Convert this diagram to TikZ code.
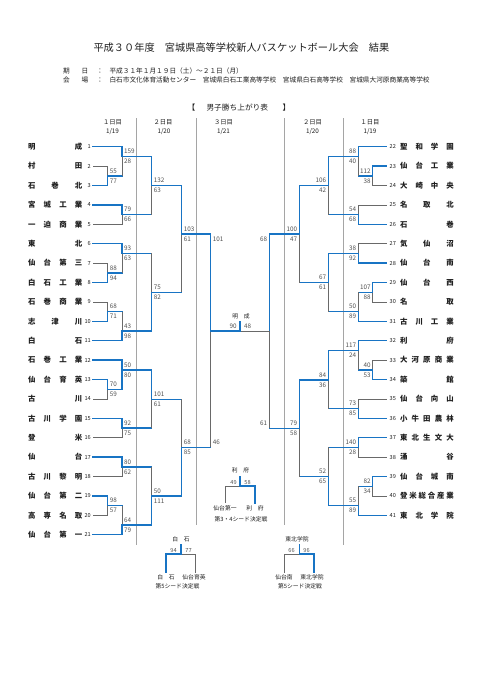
\documentclass[tikz,border=0pt]{standalone}
\usepackage{fontspec}
\setmainfont{Noto Sans CJK JP}
\usetikzlibrary{calc}
\definecolor{winc}{RGB}{24,116,196}
\definecolor{losec}{RGB}{105,105,105}
\definecolor{sepc}{RGB}{165,165,165}
\definecolor{scc}{RGB}{80,80,80}
\definecolor{txtc}{RGB}{30,30,30}
\makeatletter
\newcommand\spread[2]{\makebox[#1][s]{\let\sp@sep\relax\@tfor\sp@c:=#2\do{\sp@sep\sp@c\def\sp@sep{\hfill}}}}
\makeatother
\tikzset{
 winline/.style={draw=winc, line width=1.4pt, line cap=rect},
 loseline/.style={draw=losec, line width=0.7pt},
 sepline/.style={draw=sepc, line width=0.8pt},
 sc/.style={font=\fontsize{6.3}{7}\selectfont, text=scc, inner sep=0pt},
 psc/.style={font=\fontsize{5.6}{6}\selectfont, text=scc, inner sep=0pt},
 num/.style={font=\fontsize{5.6}{6}\selectfont, text=txtc, inner sep=0pt},
 tname/.style={font=\bfseries\fontsize{7.4}{8}\selectfont, text=txtc, inner sep=0pt},
 smalltxt/.style={font=\fontsize{5.8}{6}\selectfont, text=txtc, inner sep=0pt},
 hdr/.style={font=\fontsize{6.3}{7}\selectfont, text=txtc, inner sep=0pt},
 info/.style={font=\fontsize{6.67}{7}\selectfont, text=txtc, inner sep=0pt},
}
\newcommand\lteam[2]{%
 \pgfmathsetmacro\ty{146.7+(#1-1)*19.4}%
 \node[tname,anchor=west] (n#1) at (28,\ty) {\spread{54pt}{#2}};%
 \node[num,anchor=east] (k#1) at (91,\ty) {#1};%
 \coordinate (t#1) at (93,\ty);}
\newcommand\rteam[2]{%
 \pgfmathsetmacro\ty{146.7+(#1-22)*19.4}%
 \node[tname,anchor=west] (n#1) at (400,\ty) {\spread{53.5pt}{#2}};%
 \node[num,anchor=west] (k#1) at (389.5,\ty) {#1};%
 \coordinate (t#1) at (386.7,\ty);}
\newcommand\tf[3]{\draw[#3] (#1) -| (#2);}
\newcommand\mf[3]{\draw[winline] (#1) -- (#1 -| #2); \draw[#3] (#1 -| #2) -- (#2);}
\newcommand\Lsc[3]{\node[sc,anchor=west] (#1a) at ([xshift=2pt,yshift=5pt]#1) {#2};\node[sc,anchor=west] (#1b) at ([xshift=2pt,yshift=-5pt]#1) {#3};}
\newcommand\Rsc[3]{\node[sc,anchor=east] (#1a) at ([xshift=-2pt,yshift=5pt]#1) {#2};\node[sc,anchor=east] (#1b) at ([xshift=-2pt,yshift=-5pt]#1) {#3};}
\begin{document}
\begin{tikzpicture}[x=1pt,y=-1pt]
\useasboundingbox (0,0) rectangle (481,680);
\fill[white] (0,0) rectangle (481,680);
% header
\node[font=\fontsize{10.2}{12}\selectfont, text=txtc, inner sep=0pt, anchor=west] (title) at (93.3,47.3) {平成３０年度　宮城県高等学校新人バスケットボール大会　結果};
\node[info,anchor=west] (d1) at (63,71) {期};
\node[info,anchor=west] (d2) at (81.5,71) {日};
\node[info] (d3) at (100,71) {：};
\node[info,anchor=west] (d4) at (109.3,71) {平成３１年１月１９日（土）～２１日（月）};
\node[info,anchor=west] (v1) at (63,80) {会};
\node[info,anchor=west] (v2) at (81.5,80) {場};
\node[info] (v3) at (100,80) {：};
\node[info,anchor=west] (v4) at (109.3,80) {白石市文化体育活動センター　宮城県白石工業高等学校　宮城県白石高等学校　宮城県大河原商業高等学校};
\node[font=\fontsize{7.7}{8}\selectfont, text=txtc, inner sep=0pt] (tb1) at (191.5,107.7) {【};
\node[font=\fontsize{7.7}{8}\selectfont, text=txtc, inner sep=0pt] (tb2) at (237.3,107.7) {男子勝ち上がり表};
\node[font=\fontsize{7.7}{8}\selectfont, text=txtc, inner sep=0pt] (tb3) at (286.5,107.7) {】};
% column headers
\node[hdr] (h1) at (112.5,122.7) {１日目}; \node[hdr] (h1d) at (112.5,131.7) {1/19};
\node[hdr] (h2) at (163,122.7) {２日目}; \node[hdr] (h2d) at (164,131.7) {1/20};
\node[hdr] (h3) at (223.5,122.7) {３日目}; \node[hdr] (h3d) at (223.5,131.7) {1/21};
\node[hdr] (h4) at (312.5,122.7) {２日目}; \node[hdr] (h4d) at (312.5,131.7) {1/20};
\node[hdr] (h5) at (370,122.7) {１日目}; \node[hdr] (h5d) at (370,131.7) {1/19};
% separators
\draw[sepline] (136.7,118.3) -- (136.7,545);
\draw[sepline] (196,118.3) -- (196,525);
\draw[sepline] (284.5,118.3) -- (284.5,525);
\draw[sepline] (343.3,118.3) -- (343.3,545);
% left teams
\lteam{1}{明成}\lteam{2}{村田}\lteam{3}{石巻北}\lteam{4}{宮城工業}\lteam{5}{一迫商業}
\lteam{6}{東北}\lteam{7}{仙台第三}\lteam{8}{白石工業}\lteam{9}{石巻商業}\lteam{10}{志津川}
\lteam{11}{白石}\lteam{12}{石巻工業}\lteam{13}{仙台育英}\lteam{14}{古川}\lteam{15}{古川学園}
\lteam{16}{登米}\lteam{17}{仙台}\lteam{18}{古川黎明}\lteam{19}{仙台第二}\lteam{20}{高専名取}
\lteam{21}{仙台第一}
% right teams
\rteam{22}{聖和学園}\rteam{23}{仙台工業}\rteam{24}{大崎中央}\rteam{25}{名取北}\rteam{26}{石巻}
\rteam{27}{気仙沼}\rteam{28}{仙台南}\rteam{29}{仙台西}\rteam{30}{名取}\rteam{31}{古川工業}
\rteam{32}{利府}\rteam{33}{大河原商業}\rteam{34}{築館}\rteam{35}{仙台向山}\rteam{36}{小牛田農林}
\rteam{37}{東北生文大}\rteam{38}{涌谷}\rteam{39}{仙台城南}\rteam{40}{登米総合産業}\rteam{41}{東北学院}
% left bracket
\coordinate (mA) at (107.7,175.8);
\tf{t2}{mA}{loseline} \tf{t3}{mA}{winline} \Lsc{mA}{55}{77}
\coordinate (mB) at (122,156.7);
\tf{t1}{mB}{winline} \mf{mA}{mB}{loseline} \Lsc{mB}{159}{28}
\coordinate (mC) at (122,214.6);
\tf{t4}{mC}{winline} \tf{t5}{mC}{loseline} \Lsc{mC}{79}{66}
\coordinate (mD) at (151.7,185.7);
\mf{mB}{mD}{winline} \mf{mC}{mD}{loseline} \Lsc{mD}{132}{63}
\coordinate (mE) at (107.7,272.8);
\tf{t7}{mE}{loseline} \tf{t8}{mE}{winline} \Lsc{mE}{88}{94}
\coordinate (mF) at (122,253.3);
\tf{t6}{mF}{winline} \mf{mE}{mF}{loseline} \Lsc{mF}{93}{63}
\coordinate (mG) at (107.7,311.6);
\tf{t9}{mG}{loseline} \tf{t10}{mG}{winline} \Lsc{mG}{68}{71}
\coordinate (mI) at (122,331);
\mf{mG}{mI}{loseline} \tf{t11}{mI}{winline} \Lsc{mI}{43}{98}
\coordinate (mJ) at (151.7,292.2);
\mf{mF}{mJ}{loseline} \mf{mI}{mJ}{winline} \Lsc{mJ}{75}{82}
\coordinate (mH) at (181.7,234);
\mf{mD}{mH}{winline} \mf{mJ}{mH}{loseline} \Lsc{mH}{103}{61}
\coordinate (mK) at (107.7,389.2);
\tf{t13}{mK}{winline} \tf{t14}{mK}{loseline} \Lsc{mK}{70}{59}
\coordinate (mL) at (122,370);
\tf{t12}{mL}{winline} \mf{mK}{mL}{winline} \Lsc{mL}{50}{80}
\coordinate (mM) at (122,428);
\tf{t15}{mM}{winline} \tf{t16}{mM}{loseline} \Lsc{mM}{92}{75}
\coordinate (mN) at (151.7,399.3);
\mf{mL}{mN}{winline} \mf{mM}{mN}{loseline} \Lsc{mN}{101}{61}
\coordinate (mO) at (122,466.8);
\tf{t17}{mO}{winline} \tf{t18}{mO}{loseline} \Lsc{mO}{80}{62}
\coordinate (mP) at (107.7,505.6);
\tf{t19}{mP}{winline} \tf{t20}{mP}{loseline} \Lsc{mP}{98}{57}
\coordinate (mQ) at (122,525);
\mf{mP}{mQ}{loseline} \tf{t21}{mQ}{winline} \Lsc{mQ}{64}{79}
\coordinate (mS) at (151.7,496);
\mf{mO}{mS}{loseline} \mf{mQ}{mS}{winline} \Lsc{mS}{50}{111}
\coordinate (mR) at (181.7,447.3);
\mf{mN}{mR}{loseline} \mf{mS}{mR}{winline} \Lsc{mR}{68}{85}
\coordinate (sL) at (210.7,331);
\mf{mH}{sL}{winline} \mf{mR}{sL}{loseline}
\node[sc,anchor=west] (sLa) at (212.7,239.3) {101};
\node[sc,anchor=west] (sLb) at (212.7,442.5) {46};
% right bracket
\coordinate (rA) at (372.7,175.8);
\tf{t23}{rA}{winline} \tf{t24}{rA}{loseline} \Rsc{rA}{112}{38}
\coordinate (rB) at (358.3,156.3);
\tf{t22}{rB}{winline} \mf{rA}{rB}{loseline} \Rsc{rB}{88}{40}
\coordinate (rC) at (358.3,214.6);
\tf{t25}{rC}{loseline} \tf{t26}{rC}{winline} \Rsc{rC}{54}{68}
\coordinate (rD) at (328.3,185.5);
\mf{rB}{rD}{winline} \mf{rC}{rD}{loseline} \Rsc{rD}{106}{42}
\coordinate (rE) at (358.3,253.4);
\tf{t27}{rE}{loseline} \tf{t28}{rE}{winline} \Rsc{rE}{38}{92}
\coordinate (rF) at (372.7,292.2);
\tf{t29}{rF}{winline} \tf{t30}{rF}{loseline} \Rsc{rF}{107}{88}
\coordinate (rT) at (358.3,311.6);
\mf{rF}{rT}{loseline} \tf{t31}{rT}{winline} \Rsc{rT}{50}{89}
\coordinate (rG) at (328.3,282.5);
\mf{rE}{rG}{winline} \mf{rT}{rG}{loseline} \Rsc{rG}{67}{61}
\coordinate (rH) at (299.3,234);
\mf{rD}{rH}{winline} \mf{rG}{rH}{loseline} \Rsc{rH}{100}{47}
\coordinate (rI) at (372.7,369.8);
\tf{t33}{rI}{loseline} \tf{t34}{rI}{winline} \Rsc{rI}{40}{53}
\coordinate (rJ) at (358.3,350.3);
\tf{t32}{rJ}{winline} \mf{rI}{rJ}{loseline} \Rsc{rJ}{117}{24}
\coordinate (rK) at (358.3,408.6);
\tf{t35}{rK}{loseline} \tf{t36}{rK}{winline} \Rsc{rK}{73}{85}
\coordinate (rL) at (328.3,380);
\mf{rJ}{rL}{winline} \mf{rK}{rL}{loseline} \Rsc{rL}{84}{36}
\coordinate (rM) at (358.3,447.4);
\tf{t37}{rM}{winline} \tf{t38}{rM}{loseline} \Rsc{rM}{140}{28}
\coordinate (rN) at (372.7,486.2);
\tf{t39}{rN}{winline} \tf{t40}{rN}{loseline} \Rsc{rN}{82}{34}
\coordinate (rU) at (358.3,505.6);
\mf{rN}{rU}{loseline} \tf{t41}{rU}{winline} \Rsc{rU}{55}{89}
\coordinate (rO) at (328.3,476.5);
\mf{rM}{rO}{loseline} \mf{rU}{rO}{winline} \Rsc{rO}{52}{65}
\coordinate (rP) at (299.3,428.3);
\mf{rL}{rP}{winline} \mf{rO}{rP}{loseline} \Rsc{rP}{79}{58}
\coordinate (sR) at (269.3,331);
\mf{rH}{sR}{winline} \mf{rP}{sR}{loseline}
\node[sc,anchor=east] (sRa) at (267.3,239.3) {68};
\node[sc,anchor=east] (sRb) at (267.3,423.3) {61};
% final
\coordinate (fin) at (240,331);
\coordinate (finT) at (240,321.7);
\draw[loseline] (sR) -- (fin);
\draw[winline] (sL) -- (fin);
\draw[winline] (fin) -- (finT);
\node[smalltxt] (finW) at (241,316) {明　成};
\node[sc] (finA) at (233,326.5) {90};
\node[sc] (finB) at (247.5,326.5) {48};
% 3rd/4th
\coordinate (p3) at (240,486); \coordinate (p3t) at (240,476.7);
\coordinate (p3l) at (225,503.3); \coordinate (p3r) at (255,503.3);
\draw[loseline] (p3) -| (p3l);
\draw[winline] (p3) -| (p3r);
\draw[winline] (p3) -- (p3t);
\node[smalltxt] (p3w) at (240.5,470.7) {利　府};
\node[psc] (p3a) at (233.5,482.3) {49};
\node[psc] (p3b) at (247.5,482.3) {58};
\node[smalltxt] (p3n1) at (225,508.3) {仙台第一};
\node[smalltxt] (p3n2) at (255,508.3) {利　府};
\node[smalltxt] (p3c) at (241,519.7) {第3・4シード決定戦};
% 5th left
\coordinate (p5) at (181,554); \coordinate (p5t) at (181,545);
\coordinate (p5l) at (166,572.7); \coordinate (p5r) at (195.7,572.7);
\draw[loseline] (p5) -| (p5r);
\draw[winline] (p5) -| (p5l);
\draw[winline] (p5) -- (p5t);
\node[smalltxt] (p5w) at (181,539.3) {白　石};
\node[psc] (p5a) at (173.5,550.5) {94};
\node[psc] (p5b) at (188.5,550.5) {77};
\node[smalltxt] (p5n1) at (166,577) {白　石};
\node[smalltxt] (p5n2) at (194,577) {仙台育英};
\node[smalltxt] (p5c) at (177.5,586) {第5シード決定戦};
% 5th right
\coordinate (q5) at (299.3,554); \coordinate (q5t) at (299.3,545);
\coordinate (q5l) at (284,572.7); \coordinate (q5r) at (314,572.7);
\draw[loseline] (q5) -| (q5l);
\draw[winline] (q5) -| (q5r);
\draw[winline] (q5) -- (q5t);
\node[smalltxt] (q5w) at (297,539.3) {東北学院};
\node[psc] (q5a) at (291.5,550.5) {66};
\node[psc] (q5b) at (306.5,550.5) {96};
\node[smalltxt] (q5n1) at (284,577) {仙台南};
\node[smalltxt] (q5n2) at (312,577) {東北学院};
\node[smalltxt] (q5c) at (300,586) {第5シード決定戦};
\end{tikzpicture}
\end{document}
